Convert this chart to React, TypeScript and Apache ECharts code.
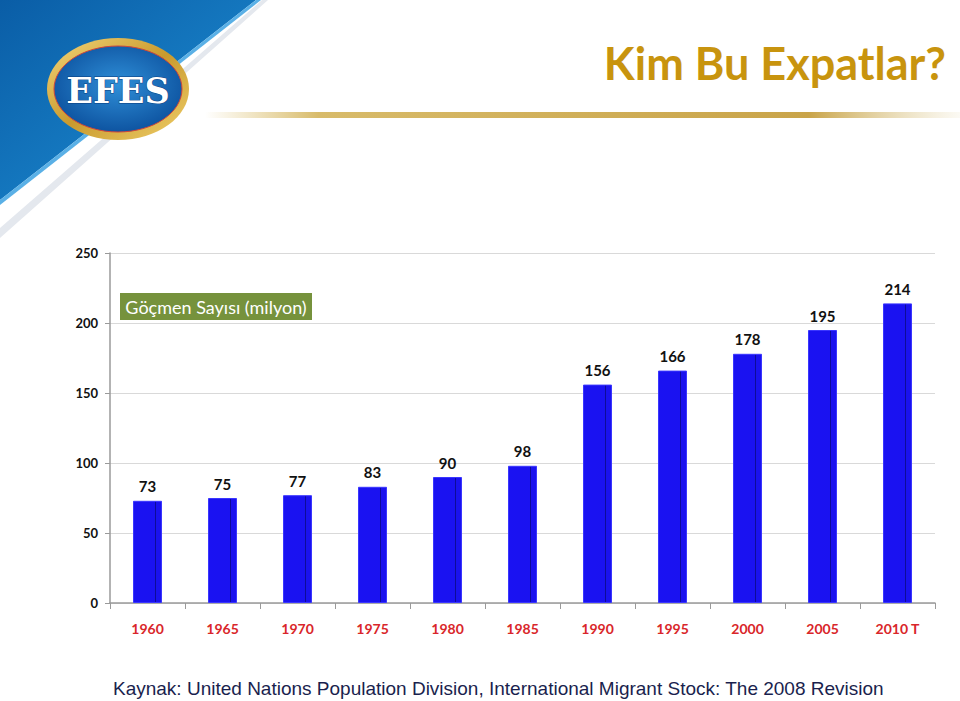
import React, { useEffect, useRef } from "react";
import * as echarts from "echarts";

const years = ["1960", "1965", "1970", "1975", "1980", "1985", "1990", "1995", "2000", "2005", "2010 T"];
const migrants = [73, 75, 77, 83, 90, 98, 156, 166, 178, 195, 214];
const yTicks = [0, 50, 100, 150, 200, 250];

const titleText = "Kim Bu Expatlar?";
const legendText = "Göçmen Sayısı (milyon)";
const sourceText = "Kaynak: United Nations Population Division, International Migrant Stock: The 2008 Revision";

export default function App() {
  const ref = useRef<HTMLDivElement>(null);
  useEffect(() => {
    if (!ref.current) return;
    const chart = echarts.init(ref.current, undefined, { renderer: "svg" });
    const option: any = {
      animation: false,
      backgroundColor: "#ffffff",
      grid: { left: 110, right: 25, top: 253, bottom: 98, containLabel: false },
      xAxis: {
        type: "category",
        data: years,
        boundaryGap: true,
        axisLine: { lineStyle: { color: "#9a9a9a", width: 1.5 } },
        axisTick: { show: true, length: 6, lineStyle: { color: "#9a9a9a" } },
        axisLabel: {
          color: "#d9262a",
          fontWeight: "bold",
          fontSize: 14,
          fontFamily: "Lato",
          margin: 18,
        },
      },
      yAxis: {
        type: "value",
        min: yTicks[0],
        max: yTicks[yTicks.length - 1],
        interval: 50,
        axisLine: { show: true, lineStyle: { color: "#9a9a9a", width: 1.5 } },
        axisTick: { show: true, length: 5, lineStyle: { color: "#9a9a9a" } },
        splitLine: { lineStyle: { color: "#d9d9d9", width: 1 } },
        axisLabel: {
          color: "#111",
          fontWeight: "bold",
          fontSize: 13,
          fontFamily: "Lato",
          margin: 12,
        },
      },
      series: [
        {
          type: "bar",
          data: migrants,
          barWidth: 29,
          itemStyle: {
            color: {
              type: "linear",
              x: 0, y: 0, x2: 1, y2: 0,
              colorStops: [
                { offset: 0, color: "#1a12f2" },
                { offset: 0.76, color: "#1a12f0" },
                { offset: 0.78, color: "#0c0a8a" },
                { offset: 0.82, color: "#1a12ee" },
                { offset: 1, color: "#1a12ee" },
              ],
            },
            borderColor: "#3a36ff",
            borderWidth: 1,
          },
          label: {
            show: true,
            position: "top",
            distance: 7,
            color: "#111",
            fontWeight: "bold",
            fontSize: 15,
            fontFamily: "Lato",
          },
        },
      ],
      graphic: [
        {
          type: "polygon",
          shape: { points: [[0, 0], [268, 0], [0, 238]] },
          style: { fill: "#e4e8ee" },
          silent: true,
        },
        {
          type: "polygon",
          shape: { points: [[0, 0], [262, 0], [0, 228]] },
          style: { fill: "#ffffff" },
          silent: true,
        },
        {
          type: "polygon",
          shape: { points: [[0, 0], [256, 0], [0, 200]] },
          style: {
            fill: {
              type: "linear",
              x: 0, y: 0, x2: 1, y2: 1,
              colorStops: [
                { offset: 0, color: "#0a5da6" },
                { offset: 1, color: "#1e90d6" },
              ],
            },
          },
          silent: true,
        },
        {
          type: "polygon",
          shape: { points: [[256, 0], [261, 0], [0, 205], [0, 200]] },
          style: { fill: "#5ab0e6" },
          silent: true,
        },
        {
          type: "ellipse",
          shape: { cx: 118, cy: 89, rx: 71, ry: 51 },
          style: {
            fill: {
              type: "linear",
              x: 0, y: 0, x2: 1, y2: 1,
              colorStops: [
                { offset: 0, color: "#f4d67a" },
                { offset: 0.5, color: "#c99a2e" },
                { offset: 1, color: "#f0cf6a" },
              ],
            },
          },
          silent: true,
        },
        {
          type: "ellipse",
          shape: { cx: 118, cy: 89, rx: 64, ry: 43 },
          style: {
            fill: {
              type: "radial",
              x: 0.5, y: 0.45, r: 0.6,
              colorStops: [
                { offset: 0, color: "#2f8fd8" },
                { offset: 1, color: "#0b4f9c" },
              ],
            },
            stroke: "#d0443a",
            lineWidth: 1,
          },
          silent: true,
        },
        {
          type: "text",
          x: 118,
          y: 90,
          style: {
            text: "EFES",
            fill: "#ffffff",
            font: "bold 35px 'DejaVu Serif', serif",
            textAlign: "center",
            textVerticalAlign: "middle",
            stroke: "#0a3f80",
            lineWidth: 1,
          },
          silent: true,
        },
        {
          type: "text",
          x: 946,
          y: 63,
          style: {
            text: titleText,
            fill: "#c8940e",
            font: "bold 45px Lato",
            textAlign: "right",
            textVerticalAlign: "middle",
            shadowColor: "rgba(0,0,0,0.35)",
            shadowBlur: 3,
            shadowOffsetX: 1.5,
            shadowOffsetY: 1.5,
          },
          silent: true,
        },
        {
          type: "rect",
          shape: { x: 205, y: 112, width: 755, height: 6 },
          style: {
            fill: {
              type: "linear",
              x: 0, y: 0, x2: 1, y2: 0,
              colorStops: [
                { offset: 0, color: "rgba(222,196,120,0)" },
                { offset: 0.15, color: "#d8bb6a" },
                { offset: 0.8, color: "#c9a449" },
                { offset: 1, color: "rgba(220,200,140,0.1)" },
              ],
            },
          },
          silent: true,
        },
        {
          type: "rect",
          shape: { x: 120, y: 293, width: 192, height: 27 },
          style: { fill: "#76923c" },
          silent: true,
        },
        {
          type: "text",
          x: 216,
          y: 307,
          style: {
            text: legendText,
            fill: "#ffffff",
            font: "18px Lato",
            textAlign: "center",
            textVerticalAlign: "middle",
          },
          silent: true,
        },
        {
          type: "text",
          x: 113,
          y: 688,
          style: {
            text: sourceText,
            fill: "#1a1f4e",
            font: "19px 'Liberation Sans', Arial, sans-serif",
            textAlign: "left",
            textVerticalAlign: "middle",
          },
          silent: true,
        },
      ],
    };
    chart.setOption(option);
    return () => chart.dispose();
  }, []);
  return (
    <div
      ref={ref}
      style={{ position: "absolute", left: 0, top: 0, width: 960, height: 701 }}
    />
  );
}
